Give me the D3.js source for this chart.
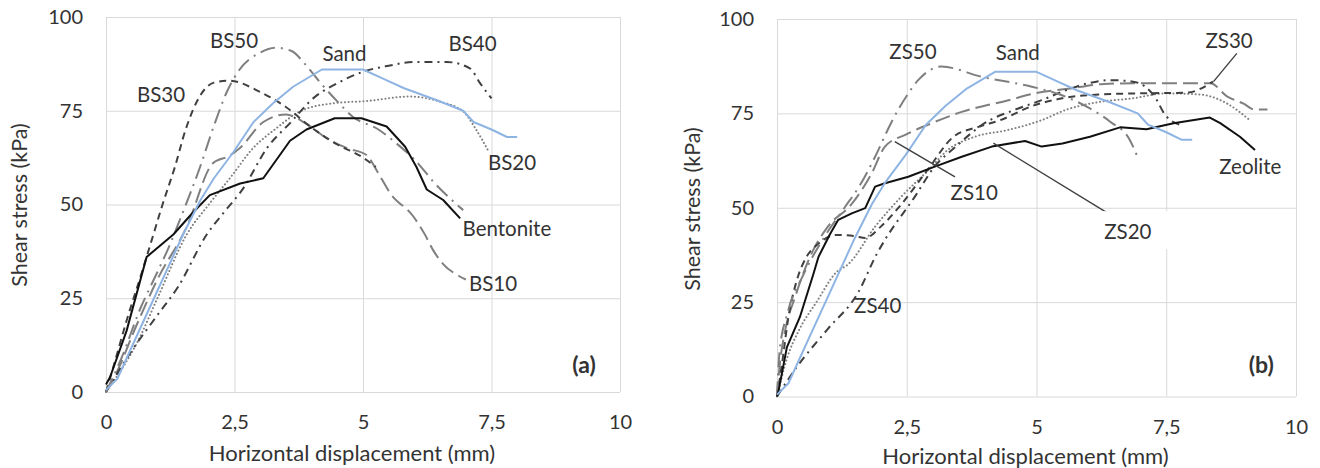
<!DOCTYPE html>
<html>
<head>
<meta charset="utf-8">
<script src="https://cdn.jsdelivr.net/npm/d3@7"></script>
<style>
  body { margin: 0; background: #fff; }
  text { font-family: Lato, "Open Sans", sans-serif; fill: #333; }
</style>
</head>
<body>
<svg id="chart" width="1320" height="468"></svg>
<script>
// [horizontal displacement (mm), shear stress (kPa)]
const sand = [[0,0.5],[0.22,3.5],[0.6,15],[1.0,27],[1.5,42],[1.83,51],[2.1,57],[2.48,64],[2.87,72],[3.25,77],[3.64,81.4],[4.2,86],[5.0,86],[5.4,83.5],[5.8,81],[6.4,78],[6.95,75],[7.15,72],[7.5,70],[7.8,68],[8.0,68]];

const bentonite = [[0,2],[0.08,4],[0.4,16.3],[0.79,36],[1.31,42],[1.7,48],[2.02,52.5],[2.61,55.6],[3.06,57],[3.58,67],[3.9,70],[4.45,73],[4.97,73],[5.46,70.8],[5.82,65.4],[6.04,60],[6.24,54],[6.56,51.2],[6.89,46.3]];
const bs10 = [[0,0],[0.2,5],[0.6,18],[1.0,30],[1.57,44],[2.08,61],[2.4,63],[2.6,65],[3.06,72],[3.5,74],[3.9,71.5],[4.3,67.6],[4.7,65],[5.07,63.2],[5.27,59],[5.53,53],[5.98,46.8],[6.2,42.1],[6.37,37.7],[6.56,34.1],[6.86,31],[7.0,30]];
const bs20 = [[0,0],[0.3,6],[0.6,13],[1.0,25],[1.57,42],[2.0,50],[2.41,57],[2.86,65],[3.32,70.4],[3.77,74.8],[4.42,77],[5.07,77.6],[5.9,78.8],[6.5,77.4],[6.95,74.8],[7.2,70],[7.45,64]];
const bs30 = [[0,0],[0.15,7],[0.4,19],[0.7,32],[0.9,41],[1.1,50],[1.34,60],[1.55,70],[1.83,79],[2.1,82.5],[2.4,83],[3.0,80],[3.5,76],[4.0,70.5],[4.5,66],[5.0,62.5],[5.25,60]];
const bs40 = [[0,0],[0.5,11],[1.0,20.5],[1.4,28],[1.96,42],[2.3,48],[2.67,54.3],[3.13,65],[3.6,72],[4.03,78.3],[4.55,82.7],[5.0,85.4],[5.5,87],[5.98,88],[6.63,88],[7.08,86.3],[7.28,82.3],[7.5,78.3]];
const bs50 = [[0,0],[0.3,9],[0.66,22],[1.0,32],[1.25,39.5],[1.44,46],[1.83,60],[2.1,71],[2.35,80],[2.6,86],[3.0,90.5],[3.3,91.8],[3.6,91],[3.9,87],[4.2,82],[4.5,77.5],[4.8,73.4],[5.3,70],[5.65,66.3],[6.0,62],[6.4,55.6],[6.95,48.5]];

const zeolite = [[0,0],[0.03,1.5],[0.19,13],[0.44,21],[0.7,32.4],[0.8,37],[1.02,43],[1.18,46.8],[1.44,48.5],[1.7,49.9],[1.89,55.6],[2.08,56.5],[2.53,58.2],[3.04,60.9],[3.56,63.5],[4.14,66.2],[4.78,67.7],[5.1,66.2],[5.5,67],[6.03,68.8],[6.61,71.3],[7.12,70.8],[7.64,72.4],[8.34,73.9],[8.54,72.4],[8.92,68.8],[9.21,65.3]];
const zs10 = [[0,0],[0.05,8],[0.15,17],[0.35,26.4],[0.67,38],[0.98,45],[1.44,51],[1.82,59],[2.08,66.2],[2.5,69.5],[2.98,72.4],[3.56,75.4],[4.46,78.5],[4.97,80.3],[5.6,81.5],[6.3,82.8],[7.0,83],[7.7,83],[8.35,83],[8.67,79.5],[9.0,77.5],[9.2,76],[9.45,76]];
const zs20 = [[0,0],[0.19,10],[0.44,18],[0.76,25],[1.15,33],[1.37,35],[1.89,45],[2.4,53],[2.92,60],[3.29,65.3],[3.81,68.8],[4.45,70.6],[5.1,73.2],[5.58,76],[6.2,78],[6.86,79],[7.5,80.3],[8.15,80],[8.66,77.7],[9.11,73.2]];
const zs30 = [[0,0],[0.09,8],[0.22,21],[0.38,30.7],[0.57,37],[0.8,40.5],[1.15,42.8],[1.5,42.5],[1.7,42],[2.0,45],[2.4,51],[2.9,60],[3.4,68.8],[3.9,71.5],[4.3,73.2],[4.93,77],[5.5,79],[6.2,80],[7.0,80.3],[7.9,80.5],[8.4,83.4]];
const zs40 = [[0,0],[0.38,7.8],[0.96,17.6],[1.57,27.7],[1.92,37.7],[2.08,41.5],[2.66,53],[3.04,61],[3.43,66],[4.0,72.4],[4.59,76],[5.1,78.5],[5.58,81.2],[6.0,83],[6.42,83.8],[6.86,83.4],[7.1,82],[7.32,78.5],[7.44,75.4],[7.75,72]];
const zs50 = [[0,0],[0.05,12],[0.2,22],[0.5,32],[0.9,42],[1.3,50],[1.6,56],[1.89,63.5],[2.21,72.8],[2.53,80.3],[2.72,83.8],[3.17,87.4],[3.94,84.7],[4.93,82],[5.45,80],[6.03,76.3],[6.42,72.8],[6.8,67.9],[6.96,63]];

const xTicks = [0, 2.5, 5, 7.5, 10];
const xTickLabels = ["0", "2,5", "5", "7,5", "10"];
const yTicks = [0, 25, 50, 75, 100];
const yTickLabels = ["0", "25", "50", "75", "100"];

// curve labels: [text, mm, kPa]
const labelsA = [["BS50",2.49,93.6],["Sand",4.64,90.3],["BS30",1.07,79.3],["BS40",7.13,92.8],["BS20",7.9,61.2],["Bentonite",7.8,43.5],["BS10",7.53,28.8]];
const labelsB = [["ZS50",2.62,91.3],["Sand",4.64,91.1],["ZS30",8.71,94.3],["Zeolite",9.12,60.9],["ZS10",3.8,54.0],["ZS20",6.76,43.8],["ZS40",1.94,24.2]];
// leader lines: [mm1, kPa1, mm2, kPa2]
const leadersB = [[2.27,67.5,3.43,58.2],[4.17,67.1,6.38,48.5],[8.86,90.9,8.41,83.4]];

// line styles
const longDash = { stroke: "#7f7f7f", dash: "15,6", curve: true };
const dotted = { stroke: "#7f7f7f", dash: "0.1,3.6", cap: "round", curve: true };
const shortDash = { stroke: "#404040", dash: "7,5", curve: true };
const dashDot = { stroke: "#404040", dash: "8,5,2,5", curve: true };
const longDashDot = { stroke: "#7f7f7f", dash: "15,6,2,6", curve: true };
const solidBlack = { stroke: "#111", dash: null, curve: false };
const solidBlue = { stroke: "#8eb4e3", dash: null, curve: false };

const svg = d3.select("#chart");

function drawPanel(box, series, labels, leaders, tag) {
  const x = d3.scaleLinear().domain([0, 10]).range([box.left, box.right]);
  const y = d3.scaleLinear().domain([0, 100]).range([box.bottom, box.top]);
  const g = svg.append("g");

  // grid
  g.append("g")
    .attr("transform", "translate(0," + box.bottom + ")")
    .call(d3.axisBottom(x).tickValues(xTicks).tickSize(-(box.bottom - box.top)).tickFormat(""))
    .call((a) => a.select(".domain").remove())
    .selectAll("line").attr("stroke", "#d9d9d9");
  g.append("g")
    .attr("transform", "translate(" + box.left + ",0)")
    .call(d3.axisLeft(y).tickValues(yTicks).tickSize(-(box.right - box.left)).tickFormat(""))
    .call((a) => a.select(".domain").remove())
    .selectAll("line").attr("stroke", "#d9d9d9");

  // tick labels
  const xa = g.append("g")
    .attr("transform", "translate(0," + box.bottom + ")")
    .call(d3.axisBottom(x).tickValues(xTicks).tickSize(0).tickPadding(23)
      .tickFormat((d, i) => xTickLabels[i]));
  const ya = g.append("g")
    .attr("transform", "translate(" + box.left + ",0)")
    .call(d3.axisLeft(y).tickValues(yTicks).tickSize(0).tickPadding(23)
      .tickFormat((d, i) => yTickLabels[i]));
  [xa, ya].forEach((a) => {
    a.select(".domain").remove();
    a.selectAll("text").attr("font-family", null).attr("font-size", 20).attr("fill", "#404040");
  });

  // axis titles
  g.append("text")
    .attr("x", (box.left + box.right) / 2 - 11)
    .attr("y", box.bottom + box.xTitle)
    .attr("text-anchor", "middle")
    .attr("font-size", 22)
    .text("Horizontal displacement (mm)");
  g.append("text")
    .attr("transform", "translate(" + box.yTitleX + "," + box.yTitleY + ") rotate(-90)")
    .attr("text-anchor", "middle")
    .attr("dy", "0.35em")
    .attr("font-size", 21.5)
    .text("Shear stress (kPa)");

  // curves
  series.forEach(([data, st]) => {
    const line = d3.line()
      .x((d) => x(d[0]))
      .y((d) => y(d[1]))
      .curve(st.curve ? d3.curveMonotoneX : d3.curveLinear);
    g.append("path")
      .datum(data)
      .attr("fill", "none")
      .attr("stroke", st.stroke)
      .attr("stroke-width", 2)
      .attr("stroke-dasharray", st.dash)
      .attr("stroke-linecap", st.cap || "butt")
      .attr("stroke-linejoin", "round")
      .attr("d", line);
  });

  // leaders
  g.selectAll(".leader")
    .data(leaders)
    .join("line")
    .attr("x1", (d) => x(d[0])).attr("y1", (d) => y(d[1]))
    .attr("x2", (d) => x(d[2])).attr("y2", (d) => y(d[3]))
    .attr("stroke", "#404040")
    .attr("stroke-width", 1.4);

  // curve labels
  labels.forEach(([t, mx, my]) => {
    if (t === "ZS20") {
      g.append("rect")
        .attr("x", x(mx) - 42).attr("y", y(my) - 20)
        .attr("width", 84).attr("height", 38)
        .attr("fill", "#fff");
    }
    g.append("text")
      .attr("x", x(mx))
      .attr("y", y(my))
      .attr("dy", "0.36em")
      .attr("text-anchor", "middle")
      .attr("font-size", 20.5)
      .text(t);
  });

  g.append("text")
    .attr("x", x(tag[1]))
    .attr("y", y(tag[2]))
    .attr("dy", "0.36em")
    .attr("text-anchor", "middle")
    .attr("font-size", 23)
    .attr("font-weight", "bold")
    .attr("fill", "#111")
    .text(tag[0]);
}

drawPanel(
  { left: 106, right: 620, top: 17, bottom: 392, xTitle: 68.5, yTitleX: 19, yTitleY: 205 },
  [[bs10, longDash], [bs20, dotted], [bs30, shortDash], [bs40, dashDot], [bs50, longDashDot],
   [bentonite, solidBlack], [sand, solidBlue]],
  labelsA, [], ["(a)", 9.3, 7.2]
);
drawPanel(
  { left: 777, right: 1296, top: 19, bottom: 396.5, xTitle: 67.5, yTitleX: 692, yTitleY: 209 },
  [[zs10, longDash], [zs20, dotted], [zs30, shortDash], [zs40, dashDot], [zs50, longDashDot],
   [zeolite, solidBlack], [sand, solidBlue]],
  labelsB, leadersB, ["(b)", 9.33, 8.3]
);
</script>
</body>
</html>
